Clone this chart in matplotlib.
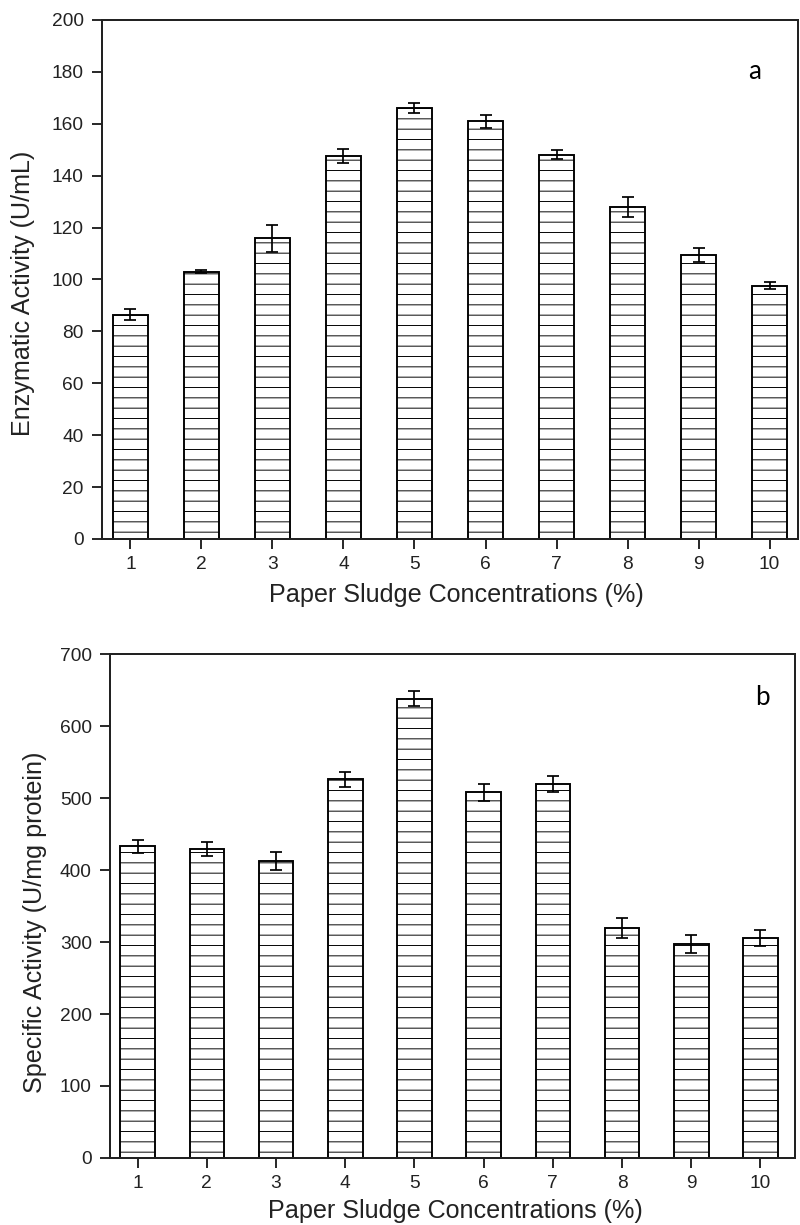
import matplotlib
matplotlib.use('Agg')
import matplotlib.pyplot as plt

# paper sludge concentration (%)
concentrations = [1, 2, 3, 4, 5, 6, 7, 8, 9, 10]

# panel a: enzymatic activity (U/mL)
enzymatic_activity = [86.5, 103.0, 115.8, 147.6, 166.0, 160.9, 148.1, 127.9, 109.4, 97.6]
enzymatic_err = [2.0, 0.6, 5.2, 2.8, 2.0, 2.6, 1.8, 3.9, 2.6, 1.3]

# panel b: specific activity (U/mg protein)
specific_activity = [433, 429, 413, 526, 638, 508, 519, 319, 297, 305]
specific_err = [9, 10, 12.5, 10.5, 10, 12, 11, 14, 12.5, 11]

DPI = 62.5
plt.rcParams['font.family'] = ['Liberation Sans', 'DejaVu Sans']
plt.rcParams['hatch.linewidth'] = 1.1
plt.rcParams['hatch.color'] = 'black'

fig = plt.figure(figsize=(800 / DPI, 1225 / DPI), dpi=DPI)

panels = [
    # (rect, values, errors, ylim, yticks, ylabel, tag, tag_pos, xlim, ylabel_coords, xlabel_coords)
    ([0.1275, 0.56, 0.87, 0.4237], enzymatic_activity, enzymatic_err, (0, 200), range(0, 201, 20),
     'Enzymatic Activity (U/mL)', 'a', (0.938, 0.90), (0.6, 10.4), (-0.096, 0.474), (0.509, -0.085)),
    ([0.1375, 0.0547, 0.85625, 0.4114], specific_activity, specific_err, (0, 700), range(0, 701, 100),
     'Specific Activity (U/mg protein)', 'b', (0.953, 0.913), (0.6, 10.5), (-0.092, 0.467), (0.504, -0.082)),
]

for rect, vals, errs, ylim, yticks, ylabel, tag, tagpos, xlim, ylc, xlc in panels:
    ax = fig.add_axes(rect)
    ax.bar(concentrations, vals, width=0.5, color='white', edgecolor='black',
           linewidth=2.2, hatch='-', zorder=2)
    ax.errorbar(concentrations, vals, yerr=errs, fmt='none', ecolor='black',
                elinewidth=2.0, capsize=7, capthick=2.0, zorder=3)
    ax.set_xlim(*xlim)
    ax.set_ylim(*ylim)
    ax.set_xticks(concentrations)
    ax.set_yticks(list(yticks))
    ax.tick_params(direction='out', length=11, width=2.2, labelsize=22,
                   colors='#222222')
    ax.tick_params(axis='y', pad=10)
    ax.tick_params(axis='x', pad=9)
    for s in ax.spines.values():
        s.set_linewidth(2.3)
        s.set_color('#222222')
    ax.set_ylabel(ylabel, fontsize=29, color='#222222')
    ax.set_xlabel('Paper Sludge Concentrations (%)', fontsize=29, color='#222222')
    ax.yaxis.set_label_coords(*ylc)
    ax.xaxis.set_label_coords(*xlc)
    ax.text(tagpos[0], tagpos[1], tag, transform=ax.transAxes, fontsize=30,
            family=['Lato', 'DejaVu Sans'], color='black', ha='center', va='center')

fig.savefig('out.png', dpi=DPI)
